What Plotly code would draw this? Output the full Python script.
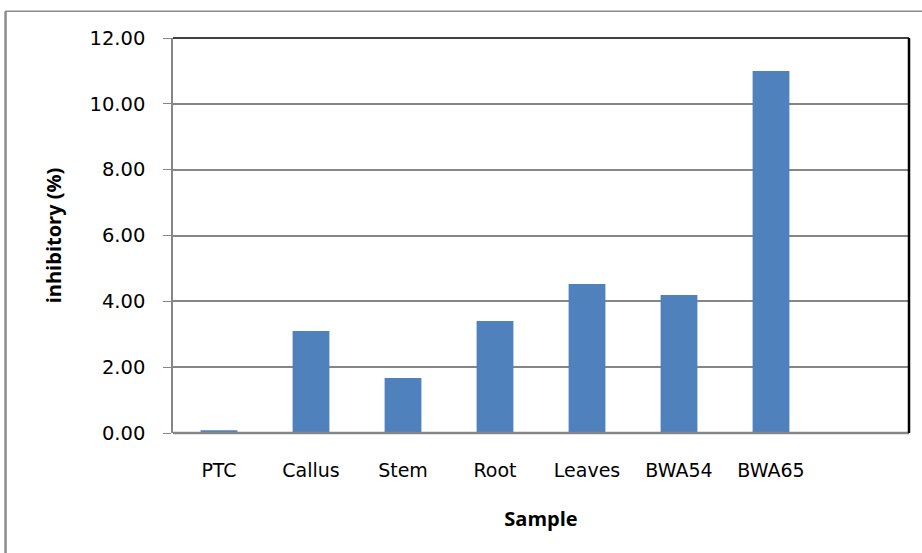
import plotly.graph_objects as go

categories = ["PTC", "Callus", "Stem", "Root", "Leaves", "BWA54", "BWA65", " "]
values = [0.08, 3.10, 1.67, 3.40, 4.53, 4.19, 11.00, None]
y_ticks = [0, 2, 4, 6, 8, 10, 12]

fig = go.Figure()
fig.add_trace(go.Bar(x=categories, y=values, marker=dict(color="#4F81BD", line=dict(width=0)),
                     showlegend=False))

tick_font = "DejaVu Sans, sans-serif"
title_font = "Open Sans, sans-serif"

fig.update_layout(
    width=922, height=553,
    margin=dict(l=173, r=13, t=38, b=120),
    paper_bgcolor="white", plot_bgcolor="white",
    bargap=0.6,
    font=dict(family=tick_font, color="#000000"),
    xaxis=dict(
        type="category", range=[-0.5, 7.5],
        showgrid=False, showline=False, ticks="",
        tickfont=dict(size=19, color="#000000", family=tick_font),
        ticklabelstandoff=24,
        title=dict(text="<b>Sample</b>", font=dict(size=20, family=title_font), standoff=31),
    ),
    yaxis=dict(
        range=[0, 12], tickvals=y_ticks, tickformat=".2f",
        showgrid=True, gridcolor="#868686", gridwidth=1.5,
        showline=True, linecolor="#868686", linewidth=1.5,
        ticks="outside", ticklen=8, tickcolor="#868686",
        tickfont=dict(size=19.5, color="#000000", family=tick_font),
        ticklabelstandoff=14,
        title=dict(text="<b>inhibitory (%)</b>", font=dict(size=20, family=title_font), standoff=23),
        zeroline=False,
    ),
)

shapes = [
    dict(type="line", xref="paper", yref="paper", x0=0, x1=1, y0=0, y1=0,
         line=dict(color="#868686", width=2.5)),
    dict(type="line", xref="paper", yref="paper", x0=0, x1=1, y0=1, y1=1,
         line=dict(color="#000000", width=1.5)),
    dict(type="line", xref="paper", yref="paper", x0=1, x1=1, y0=0, y1=1,
         line=dict(color="#000000", width=2.5)),
    dict(type="line", xref="paper", yref="paper", x0=-0.228, x1=1.02, y0=1.068, y1=1.068,
         line=dict(color="#8c8c8c", width=1.5)),
    dict(type="line", xref="paper", yref="paper", x0=-0.2275, x1=-0.2275, y0=1.068, y1=-0.31,
         line=dict(color="#8c8c8c", width=2.5)),
]
fig.update_layout(shapes=shapes)

fig.write_html("out.html", config={"displayModeBar": False},
               post_script="document.body.style.margin='0';")
